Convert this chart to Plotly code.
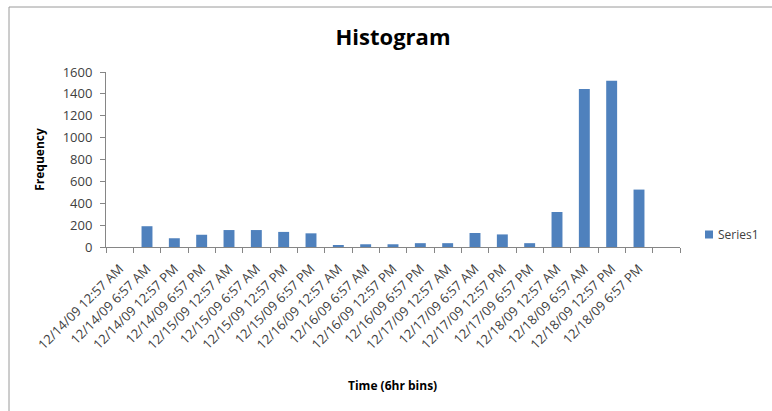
import plotly.graph_objects as go

# 6-hour bins; the trailing bin has no label and no count
bins = [
    "12/14/09 12:57 AM", "12/14/09 6:57 AM", "12/14/09 12:57 PM", "12/14/09 6:57 PM",
    "12/15/09 12:57 AM", "12/15/09 6:57 AM", "12/15/09 12:57 PM", "12/15/09 6:57 PM",
    "12/16/09 12:57 AM", "12/16/09 6:57 AM", "12/16/09 12:57 PM", "12/16/09 6:57 PM",
    "12/17/09 12:57 AM", "12/17/09 6:57 AM", "12/17/09 12:57 PM", "12/17/09 6:57 PM",
    "12/18/09 12:57 AM", "12/18/09 6:57 AM", "12/18/09 12:57 PM", "12/18/09 6:57 PM",
    " ",
]
frequency = [0, 190, 80, 112, 155, 155, 138, 125, 15, 25, 25, 35, 35, 128, 115, 35,
             320, 1445, 1520, 525, None]
y_ticks = [0, 200, 400, 600, 800, 1000, 1200, 1400, 1600]
series_name = "Series1"
bar_color = "#4F81BD"

W, H = 772, 411
L, R, T, B = 106, 680, 72, 247
FONT = "Open Sans, Noto Sans, sans-serif"


def px(x):
    """pixel column -> paper x"""
    return (x - L) / (R - L)


def py(y):
    """pixel row -> paper y"""
    return (B - y) / (B - T)


fig = go.Figure(
    go.Bar(
        x=bins,
        y=frequency,
        name=series_name,
        marker=dict(color=bar_color, line=dict(width=0)),
        showlegend=False,
    )
)

axis_font = dict(family=FONT, size=13, color="#404040")

fig.update_layout(
    width=W,
    height=H,
    margin=dict(l=L, r=W - R, t=T, b=H - B, pad=0, autoexpand=False),
    paper_bgcolor="white",
    plot_bgcolor="white",
    bargap=0.6,
    title=dict(
        text="<b>Histogram</b>",
        x=393 / W,
        xanchor="center",
        y=1 - 37 / H,
        yanchor="middle",
        font=dict(family=FONT, size=22, color="black"),
    ),
    xaxis=dict(
        type="category",
        categoryorder="array",
        categoryarray=bins,
        range=[-0.5, len(bins) - 0.5],
        tickangle=-45,
        tickson="boundaries",
        ticks="outside",
        ticklen=5,
        tickcolor="#868686",
        ticklabelstandoff=8,
        showline=True,
        linecolor="#868686",
        linewidth=1,
        showgrid=False,
        tickfont=axis_font,
        automargin=False,
    ),
    yaxis=dict(
        range=[0, 1600],
        tickvals=y_ticks,
        ticks="outside",
        ticklen=5,
        tickcolor="#868686",
        ticklabelstandoff=5,
        showline=True,
        linecolor="#868686",
        linewidth=1,
        showgrid=False,
        zeroline=False,
        tickfont=axis_font,
        title=dict(
            text="<b>Frequency</b>",
            font=dict(family=FONT, size=12, color="black"),
            standoff=15,
        ),
        automargin=False,
    ),
    shapes=[
        # chart frame
        dict(
            type="rect", xref="paper", yref="paper",
            x0=px(9), x1=px(W + 20), y0=py(H + 20), y1=py(7),
            line=dict(color="#9a9a9a", width=1),
            fillcolor="rgba(0,0,0,0)", layer="below",
        ),
        # legend swatch
        dict(
            type="rect", xref="paper", yref="paper",
            x0=px(705), x1=px(713), y0=py(238.5), y1=py(230.5),
            line=dict(width=0), fillcolor=bar_color,
        ),
    ],
)

# legend label
fig.add_annotation(
    text=series_name,
    xref="paper", yref="paper",
    x=px(716), y=py(234.5),
    xanchor="left", yanchor="middle",
    showarrow=False,
    font=dict(family=FONT, size=12, color="#404040"),
)

# x-axis title sits well below the slanted bin labels
fig.add_annotation(
    text="<b>Time (6hr bins)</b>",
    xref="paper", yref="paper",
    x=px(392), y=py(385),
    xanchor="center", yanchor="middle",
    showarrow=False,
    font=dict(family=FONT, size=12, color="black"),
)

fig.write_html("out.html")
